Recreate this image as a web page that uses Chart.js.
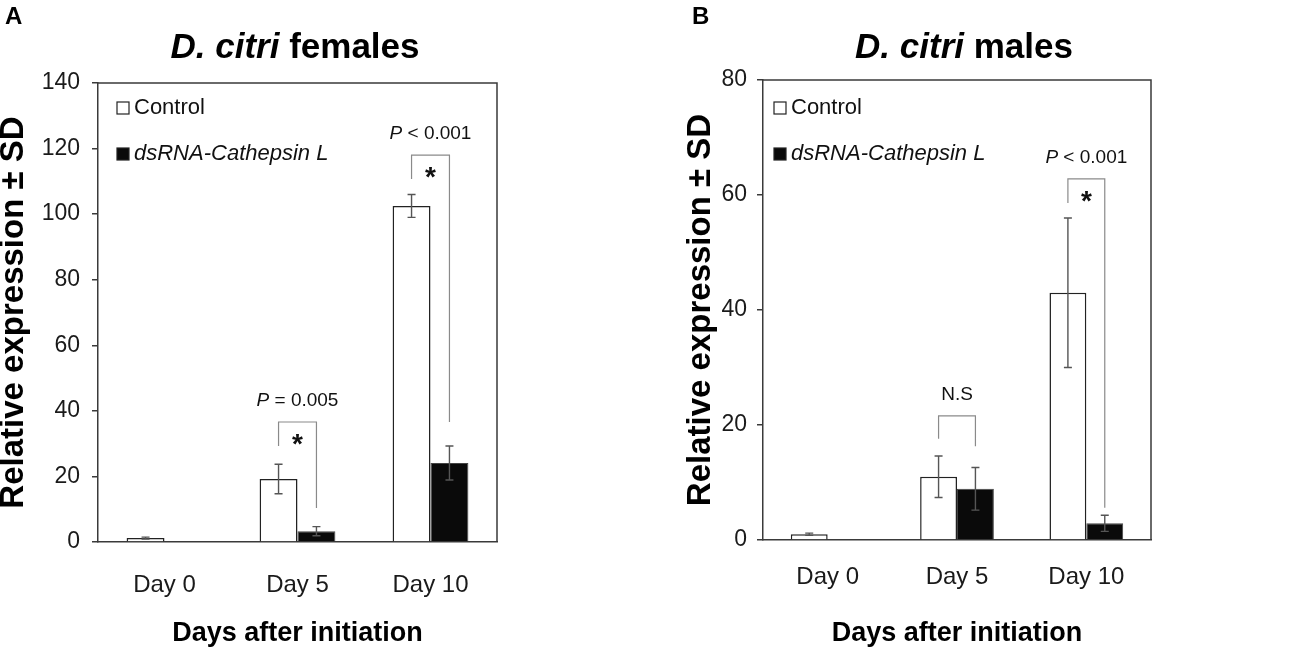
<!DOCTYPE html>
<html>
<head>
<meta charset="utf-8">
<script src="https://cdn.jsdelivr.net/npm/chart.js@4.4.1/dist/chart.umd.min.js"></script>
<style>
  body { margin: 0; background: #fff; width: 1311px; height: 652px; position: relative; overflow: hidden; }
  canvas { position: absolute; top: 0; }
  #chartA { left: 0; }
  #chartB { left: 650px; }
</style>
</head>
<body>
<canvas id="chartA" width="650" height="652"></canvas>
<canvas id="chartB" width="661" height="652"></canvas>
<script>
// categories
var days = ['Day 0', 'Day 5', 'Day 10'];

// females (panel A)
var femControl = [1.2, 19.2, 102.5];
var femControlSd = [0.3, 4.5, 3.5];
var femDs = [null, 3.3, 24.1];
var femDsSd = [null, 1.4, 5.2];
var femSigCat = [1, 2];
var femSigTop = [36.6, 118];
var femSigLeftEnd = [29.3, 110.7];
var femSigRightEnd = [10.4, 36.6];
var femSigLabel = [['P', ' = 0.005'], ['P', ' < 0.001']];
var femSigStar = [true, true];

// males (panel B)
var maleControl = [1.0, 11.0, 43.0];
var maleControlSd = [0.2, 3.6, 13.0];
var maleDs = [null, 8.9, 2.9];
var maleDsSd = [null, 3.7, 1.4];
var maleSigCat = [1, 2];
var maleSigTop = [21.6, 62.8];
var maleSigLeftEnd = [17.6, 58.6];
var maleSigRightEnd = [16.3, 5.6];
var maleSigLabel = [['', 'N.S'], ['P', ' < 0.001']];
var maleSigStar = [false, true];

var SANS = '"Liberation Sans", Arial, sans-serif';
var axisColor = '#3a3a3a';

// draws frame, error bars, brackets, legend, titles
var decor = {
  id: 'decor',
  afterDatasetsDraw: function(chart) {
    var o = chart.options.plugins.decor;
    var ctx = chart.ctx;
    var area = chart.chartArea;
    var y = chart.scales.y;
    ctx.save();

    // top + right frame
    ctx.strokeStyle = axisColor;
    ctx.lineWidth = 1.5;
    ctx.beginPath();
    ctx.moveTo(area.left, area.top);
    ctx.lineTo(area.right, area.top);
    ctx.lineTo(area.right, area.bottom);
    ctx.stroke();

    // error bars
    ctx.strokeStyle = '#555';
    ctx.lineWidth = 1.4;
    chart.data.datasets.forEach(function(ds, i) {
      var meta = chart.getDatasetMeta(i);
      ds.data.forEach(function(v, j) {
        if (v == null || ds.sd[j] == null) return;
        var x = meta.data[j].x;
        var y1 = y.getPixelForValue(v + ds.sd[j]);
        var y2 = y.getPixelForValue(v - ds.sd[j]);
        ctx.beginPath();
        ctx.moveTo(x, y1); ctx.lineTo(x, y2);
        ctx.moveTo(x - 4, y1); ctx.lineTo(x + 4, y1);
        ctx.moveTo(x - 4, y2); ctx.lineTo(x + 4, y2);
        ctx.stroke();
      });
    });

    // significance brackets
    var m0 = chart.getDatasetMeta(0), m1 = chart.getDatasetMeta(1);
    o.sigCat.forEach(function(c, k) {
      var xl = m0.data[c].x, xr = m1.data[c].x;
      var yt = y.getPixelForValue(o.sigTop[k]);
      ctx.strokeStyle = '#8a8a8a';
      ctx.lineWidth = 1.2;
      ctx.beginPath();
      ctx.moveTo(xl, y.getPixelForValue(o.sigLeftEnd[k]));
      ctx.lineTo(xl, yt);
      ctx.lineTo(xr, yt);
      ctx.lineTo(xr, y.getPixelForValue(o.sigRightEnd[k]));
      ctx.stroke();
      var cx = (xl + xr) / 2;
      ctx.fillStyle = '#111';
      if (o.sigStar[k]) {
        ctx.font = 'bold 28px ' + SANS;
        ctx.textAlign = 'center';
        ctx.textBaseline = 'middle';
        ctx.fillText('*', cx, yt + 23);
      }
      var lab = o.sigLabel[k];
      ctx.font = 'italic 19px ' + SANS;
      var w1 = ctx.measureText(lab[0]).width;
      ctx.font = '19px ' + SANS;
      var w2 = ctx.measureText(lab[1]).width;
      var sx = cx - (w1 + w2) / 2;
      ctx.textAlign = 'left';
      ctx.textBaseline = 'middle';
      ctx.font = 'italic 19px ' + SANS;
      ctx.fillText(lab[0], sx, yt - 21);
      ctx.font = '19px ' + SANS;
      ctx.fillText(lab[1], sx + w1, yt - 21);
    });

    // legend
    chart.data.datasets.forEach(function(ds, i) {
      var bx = area.left + o.legendX, by = area.top + o.legendY + i * 46;
      ctx.fillStyle = ds.backgroundColor;
      ctx.fillRect(bx, by, 12, 12);
      ctx.strokeStyle = '#222';
      ctx.lineWidth = 1.2;
      ctx.strokeRect(bx, by, 12, 12);
      ctx.fillStyle = '#111';
      ctx.font = (i === 1 ? 'italic ' : '') + '22px ' + SANS;
      ctx.textAlign = 'left';
      ctx.textBaseline = 'middle';
      ctx.fillText(ds.label, bx + 17, by + 6);
    });

    // panel title
    ctx.fillStyle = '#000';
    ctx.textBaseline = 'alphabetic';
    ctx.font = 'italic bold 35px ' + SANS;
    var a = ctx.measureText(o.titleItalic).width;
    ctx.font = 'bold 35px ' + SANS;
    var b = ctx.measureText(o.titleRest).width;
    var tx = o.titleX - (a + b) / 2;
    ctx.textAlign = 'left';
    ctx.font = 'italic bold 35px ' + SANS;
    ctx.fillText(o.titleItalic, tx, 58);
    ctx.font = 'bold 35px ' + SANS;
    ctx.fillText(o.titleRest, tx + a, 58);

    // panel letter
    ctx.font = 'bold 24px ' + SANS;
    ctx.fillText(o.letter, o.letterX, 24);
    ctx.restore();
  }
};

function makeChart(id, cfg) {
  var W = document.getElementById(id).width;
  return new Chart(document.getElementById(id), {
    type: 'bar',
    data: {
      labels: days,
      datasets: [
        { label: 'Control', data: cfg.control, sd: cfg.controlSd,
          backgroundColor: '#ffffff', borderColor: '#222', borderWidth: 1.5 },
        { label: 'dsRNA-Cathepsin L', data: cfg.ds, sd: cfg.dsSd,
          backgroundColor: '#0a0a0a', borderColor: '#444', borderWidth: 1 }
      ]
    },
    options: {
      responsive: false,
      animation: false,
      layout: { padding: { top: cfg.top, left: 0, right: W - cfg.right, bottom: 0 } },
      datasets: { bar: { categoryPercentage: 0.57, barPercentage: 1 } },
      plugins: {
        legend: { display: false },
        tooltip: { enabled: false },
        decor: cfg.decor
      },
      scales: {
        x: {
          grid: { display: false, drawTicks: false },
          border: { display: true, color: axisColor, width: 1.5 },
          ticks: { font: { family: SANS, size: 24 }, color: '#1a1a1a', padding: cfg.xTickPad },
          title: { display: true, text: 'Days after initiation', color: '#000',
                   font: { family: SANS, weight: 'bold', size: 27 }, padding: { top: 0, bottom: 2 } },
          afterFit: function(s) { s.height = 652 - cfg.bottom; }
        },
        y: {
          min: 0, max: cfg.yMax,
          ticks: { stepSize: cfg.yStep, font: { family: SANS, size: 23 }, color: '#1a1a1a', padding: cfg.yTickPad },
          grid: { drawOnChartArea: false, drawTicks: true, tickLength: 6, color: axisColor, lineWidth: 1.5 },
          border: { display: true, color: axisColor, width: 1.5 },
          title: { display: true, text: 'Relative expression ± SD', color: '#000',
                   font: { family: SANS, weight: 'bold', size: 33, lineHeight: 1 }, padding: { top: cfg.yTitlePad, bottom: 0 } },
          afterFit: function(s) { s.width = cfg.left; }
        }
      }
    },
    plugins: [decor]
  });
}

makeChart('chartA', {
  control: femControl, controlSd: femControlSd, ds: femDs, dsSd: femDsSd,
  left: 98, right: 497, top: 83, bottom: 542, yMax: 140, yStep: 20,
  xTickPad: 29, yTickPad: 12, yTitlePad: -3,
  decor: { sigCat: femSigCat, sigTop: femSigTop, sigLeftEnd: femSigLeftEnd, sigRightEnd: femSigRightEnd,
           sigLabel: femSigLabel, sigStar: femSigStar, legendX: 19, legendY: 19,
           titleItalic: 'D. citri', titleRest: ' females', titleX: 295, letter: 'A', letterX: 5 }
});

makeChart('chartB', {
  control: maleControl, controlSd: maleControlSd, ds: maleDs, dsSd: maleDsSd,
  left: 113, right: 501, top: 80, bottom: 540, yMax: 80, yStep: 20,
  xTickPad: 23, yTickPad: 10, yTitlePad: 34,
  decor: { sigCat: maleSigCat, sigTop: maleSigTop, sigLeftEnd: maleSigLeftEnd, sigRightEnd: maleSigRightEnd,
           sigLabel: maleSigLabel, sigStar: maleSigStar, legendX: 11, legendY: 22,
           titleItalic: 'D. citri', titleRest: ' males', titleX: 314, letter: 'B', letterX: 42 }
});
</script>
</body>
</html>
